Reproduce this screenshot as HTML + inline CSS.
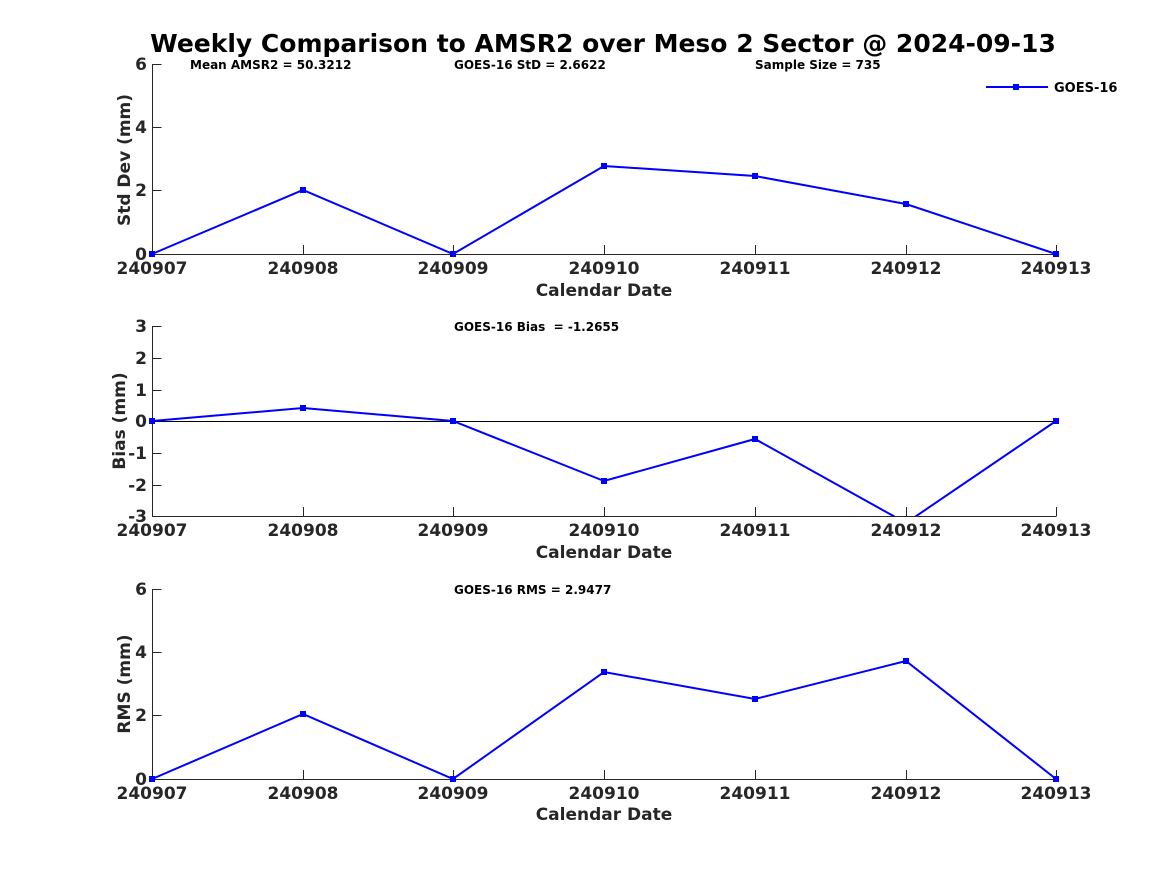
<!DOCTYPE html>
<html><head><style>body{margin:0;background:#fff}svg{display:block}</style></head><body>
<svg width="1167" height="875" xmlns="http://www.w3.org/2000/svg" font-family="'DejaVu Sans','Liberation Sans',sans-serif" font-weight="bold">
<defs>
<clipPath id="c2"><rect x="150" y="326" width="910" height="190"/></clipPath>
</defs>
<text x="603" y="52" font-size="25" text-anchor="middle" fill="#000">Weekly Comparison to AMSR2 over Meso 2 Sector @ 2024-09-13</text>
<g font-size="12" fill="#000">
<text x="190" y="69">Mean AMSR2 = 50.3212</text>
<text x="454" y="69">GOES-16 StD = 2.6622</text>
<text x="755" y="69">Sample Size = 735</text>
<text x="454" y="331" xml:space="preserve">GOES-16 Bias  = -1.2655</text>
<text x="454" y="594">GOES-16 RMS = 2.9477</text>
</g>
<g stroke="#00f" stroke-width="2"><line x1="986" y1="87" x2="1048" y2="87"/></g>
<rect x="1013" y="84" width="6" height="6" fill="#00f"/>
<text x="1054" y="92" font-size="13" fill="#000">GOES-16</text>

<g stroke="#262626" stroke-width="1" fill="none">
<path d="M152.5 64V254.5H1056.5"/>
<path d="M152.5 326V516.5H1056.5"/>
<path d="M152.5 589V779.5H1056.5"/>
<path d="M152.5 64.5h9M152.5 127.5h9M152.5 190.5h9M152.5 254.5h9"/>
<path d="M303.5 254v-9M453.5 254v-9M604.5 254v-9M755.5 254v-9M906.5 254v-9M1056.5 254v-9"/>
<path d="M152.5 326.5h9M152.5 358.5h9M152.5 390.5h9M152.5 421.5h9M152.5 453.5h9M152.5 485.5h9"/>
<path d="M303.5 516v-9M453.5 516v-9M604.5 516v-9M755.5 516v-9M906.5 516v-9M1056.5 516v-9"/>
<path d="M152.5 589.5h9M152.5 652.5h9M152.5 715.5h9M152.5 779.5h9"/>
<path d="M303.5 779v-9M453.5 779v-9M604.5 779v-9M755.5 779v-9M906.5 779v-9M1056.5 779v-9"/>
</g>
<line x1="152" y1="421.5" x2="1056" y2="421.5" stroke="#000" stroke-width="1"/>

<g font-size="17" fill="#262626">
<g text-anchor="end">
<text x="147" y="70">6</text><text x="147" y="133">4</text><text x="147" y="196">2</text><text x="147" y="260">0</text>
<text x="147" y="332">3</text><text x="147" y="364">2</text><text x="147" y="396">1</text><text x="147" y="427">0</text><text x="147" y="459">-1</text><text x="147" y="491">-2</text><text x="147" y="522">-3</text>
<text x="147" y="595">6</text><text x="147" y="658">4</text><text x="147" y="721">2</text><text x="147" y="785">0</text>
</g>
<g text-anchor="middle">
<g transform="translate(0,274)"><text x="152">240907</text><text x="303">240908</text><text x="453">240909</text><text x="604">240910</text><text x="755">240911</text><text x="906">240912</text><text x="1056">240913</text></g>
<g transform="translate(0,536)"><text x="152">240907</text><text x="303">240908</text><text x="453">240909</text><text x="604">240910</text><text x="755">240911</text><text x="906">240912</text><text x="1056">240913</text></g>
<g transform="translate(0,799)"><text x="152">240907</text><text x="303">240908</text><text x="453">240909</text><text x="604">240910</text><text x="755">240911</text><text x="906">240912</text><text x="1056">240913</text></g>
<text x="604" y="296">Calendar Date</text>
<text x="604" y="558">Calendar Date</text>
<text x="604" y="820">Calendar Date</text>
<text transform="translate(130,160) rotate(-90)">Std Dev (mm)</text>
<text transform="translate(125,421) rotate(-90)">Bias (mm)</text>
<text transform="translate(130,684) rotate(-90)">RMS (mm)</text>
</g>
</g>

<g stroke="#00f" stroke-width="2" fill="none">
<polyline points="152,254 303,190 453,254 604,166 755,176 906,204 1056,254"/>
<polyline clip-path="url(#c2)" points="152,421 303,408 453,421 604,481 755,439 906,523 1056,421"/>
<polyline points="152,779 303,714 453,779 604,672 755,699 906,661 1056,779"/>
</g>
<g fill="#00f">
<rect x="149" y="251" width="6" height="6"/><rect x="300" y="187" width="6" height="6"/><rect x="450" y="251" width="6" height="6"/><rect x="601" y="163" width="6" height="6"/><rect x="752" y="173" width="6" height="6"/><rect x="903" y="201" width="6" height="6"/><rect x="1053" y="251" width="6" height="6"/>
<rect x="149" y="418" width="6" height="6"/><rect x="300" y="405" width="6" height="6"/><rect x="450" y="418" width="6" height="6"/><rect x="601" y="478" width="6" height="6"/><rect x="752" y="436" width="6" height="6"/><rect x="1053" y="418" width="6" height="6"/>
<rect x="149" y="776" width="6" height="6"/><rect x="300" y="711" width="6" height="6"/><rect x="450" y="776" width="6" height="6"/><rect x="601" y="669" width="6" height="6"/><rect x="752" y="696" width="6" height="6"/><rect x="903" y="658" width="6" height="6"/><rect x="1053" y="776" width="6" height="6"/>
</g>
</svg>
</body></html>
